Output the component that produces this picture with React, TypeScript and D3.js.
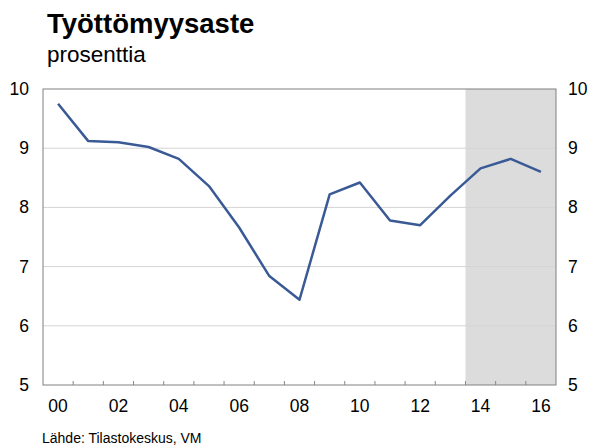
import React from 'react';
import * as d3 from 'd3';

const years = ['00', '01', '02', '03', '04', '05', '06', '07', '08', '09', '10', '11', '12', '13', '14', '15', '16'];
const rate = [9.75, 9.12, 9.1, 9.02, 8.82, 8.36, 7.66, 6.84, 6.44, 8.22, 8.42, 7.78, 7.7, 8.2, 8.66, 8.82, 8.6];
const forecastYears = ['14', '15', '16'];
const yTicks = [5, 6, 7, 8, 9, 10];
const xLabels = ['00', '02', '04', '06', '08', '10', '12', '14', '16'];

const W = 593;
const H = 448;
const left = 43;
const right = 556;
const top = 89;
const bottom = 385;
const font = '"Liberation Sans", Arial, sans-serif';

export default function App() {
  const x = d3.scaleBand<string>().domain(years).range([left, right]);
  const y = d3.scaleLinear().domain([5, 10]).range([bottom, top]);
  const cx = (d: string) => (x(d) ?? 0) + x.bandwidth() / 2;

  const line = d3.line<number>()
    .x((_, i) => cx(years[i]))
    .y(d => y(d));

  const fcStart = x(forecastYears[0]) ?? 0;
  const fcEnd = (x(forecastYears[forecastYears.length - 1]) ?? 0) + x.bandwidth();

  return (
    <svg width={W} height={H} style={{ position: 'absolute', left: 0, top: 0, background: '#fff' }}>
      <text x={47} y={33} fontFamily={font} fontSize={27.5} fontWeight="bold" fill="#000">Työttömyysaste</text>
      <text x={47} y={62} fontFamily={font} fontSize={22.5} fill="#000">prosenttia</text>

      <rect x={fcStart} y={top} width={fcEnd - fcStart} height={bottom - top} fill="#dcdcdc" />

      {yTicks.filter(t => t > 5 && t < 10).map(t => (
        <line key={t} x1={left} x2={right} y1={y(t)} y2={y(t)} stroke="#d4d4d4" strokeWidth={1} />
      ))}

      {years.slice(1).map(d => (
        <line key={d} x1={x(d)} x2={x(d)} y1={bottom} y2={bottom - 4} stroke="#888" strokeWidth={1} />
      ))}

      <rect x={left} y={top} width={right - left} height={bottom - top} fill="none" stroke="#808080" strokeWidth={1} />

      <path d={line(rate) ?? ''} fill="none" stroke="#3a5a96" strokeWidth={2.5} strokeLinejoin="round" />

      {yTicks.map(t => (
        <g key={t} fontFamily={font} fontSize={17.5} fill="#000">
          <text x={29} y={y(t) + 6} textAnchor="end">{t}</text>
          <text x={568} y={y(t) + 6} textAnchor="start">{t}</text>
        </g>
      ))}

      {xLabels.map(d => (
        <text key={d} x={cx(d)} y={412} textAnchor="middle" fontFamily={font} fontSize={17.5} fill="#000">{d}</text>
      ))}

      <text x={42} y={443} fontFamily={font} fontSize={14} fill="#000">Lähde: Tilastokeskus, VM</text>
    </svg>
  );
}
